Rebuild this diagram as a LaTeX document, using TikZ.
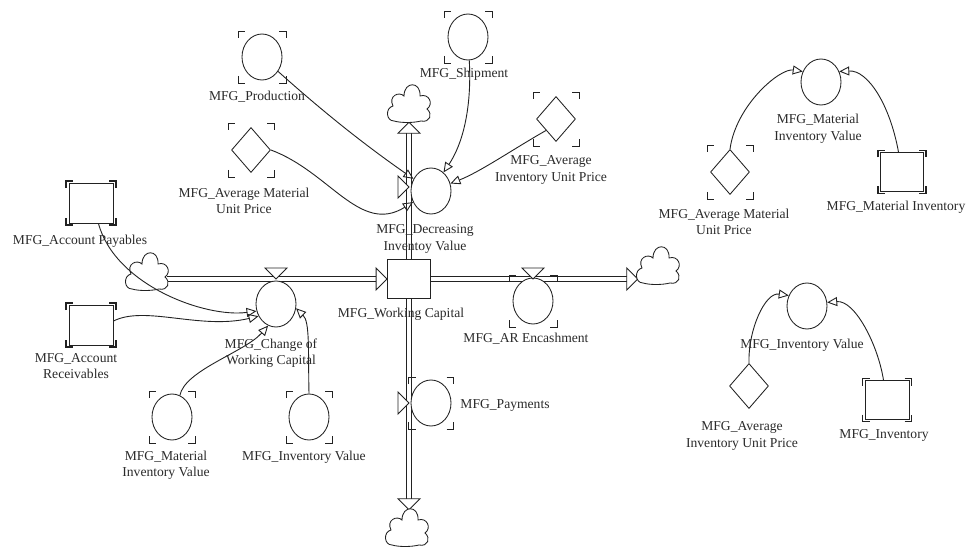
\documentclass[tikz,border=0pt]{standalone}
\usepackage{fontspec}
\setmainfont{Liberation Serif}
\usetikzlibrary{shapes.geometric,arrows.meta,calc}
\definecolor{ink}{HTML}{222222}
\definecolor{txt}{HTML}{2A2A2A}
\newcommand\vtri[2]{\draw[tri, shift={(#1)}, rotate=#2] (0,0) -- (-11,-11) -- (-11,11) -- cycle;}
\newcommand\hpipe[2]{%
  \draw[pl] ($(#1)+(0,-2.4)$) -- ($(#2)+(0,-2.4)$);
  \draw[pl] ($(#1)+(0,2.4)$) -- ($(#2)+(0,2.4)$);}
\newcommand\vpipe[2]{%
  \draw[pl] ($(#1)+(-2.4,0)$) -- ($(#2)+(-2.4,0)$);
  \draw[pl] ($(#1)+(2.4,0)$) -- ($(#2)+(2.4,0)$);}
\newcommand\vcorn[4]{%
  \begin{scope}[shift={(#1.center)}]
    \draw[#4] (-#2,-#3+7) -- (-#2,-#3) -- (-#2+7,-#3);
    \draw[#4] (#2-7,-#3) -- (#2,-#3) -- (#2,-#3+7);
    \draw[#4] (-#2,#3-7) -- (-#2,#3) -- (-#2+7,#3);
    \draw[#4] (#2-7,#3) -- (#2,#3) -- (#2,#3-7);
  \end{scope}}
\tikzset{vcloud/.pic={\draw[draw=ink, line width=0.85pt, fill=white]
  (-15,17) .. controls (-23,17) and (-24,4) .. (-16,2)
  .. controls (-21,-8) and (-10,-13) .. (-5,-8)
  .. controls (-5,-23) and (12,-23) .. (11,-8)
  .. controls (20,-11) and (25,0) .. (18,5)
  .. controls (24,10) and (21,19) .. (12,17)
  .. controls (4,19) and (-8,19) .. (-15,17) -- cycle;}}
\begin{document}
\begin{tikzpicture}[x=1pt,y=-1pt,
  every node/.style={font=\fontsize{13.6}{16.5}\selectfont},
  aux/.style={ellipse, draw=ink, fill=white, line width=0.85pt, minimum width=40pt, minimum height=46pt, inner sep=0pt},
  const/.style={diamond, draw=ink, fill=white, line width=0.85pt, minimum width=39pt, minimum height=45pt, inner sep=0pt},
  stock/.style={rectangle, draw=ink, fill=white, line width=0.85pt, minimum width=44pt, minimum height=40pt, inner sep=0pt},
  cloudnode/.style={minimum width=40pt, minimum height=36pt, inner sep=0pt},
  lbl/.style={align=center, text=txt, inner sep=0pt},
  pl/.style={draw=ink, line width=0.75pt},
  link/.style={draw=ink, line width=0.9pt, -{Triangle[open, length=10pt, width=9pt]}},
  tri/.style={draw=ink, fill=white, line width=0.85pt, line join=miter},
  brk/.style={draw=ink, line width=0.85pt},
  sbrk/.style={draw=ink, line width=1.4pt},
]
\useasboundingbox (0,0) rectangle (974,548);

% ---- clouds (as named places) ----
\node[cloudnode] (cTop) at (409,104) {};
\node[cloudnode] (cLeft) at (147,272) {};
\node[cloudnode] (cRight) at (658,266) {};
\node[cloudnode] (cBot) at (407,528) {};
\coordinate (wcC) at (409,279);

% ---- pipes ----
\path (cTop.south) coordinate (tTop) ++(0,11) coordinate (bTop);
\path (wcC |- cBot.north) coordinate (tBot) ++(0,-11) coordinate (bBot);
\path (wcC) ++(-21.5,0) coordinate (tL) ++(-11,0) coordinate (bL);
\path (cRight.west |- wcC) coordinate (tR) ++(-11,0) coordinate (bR);
\coordinate (sL) at (cLeft.east |- wcC);
\vpipe{bTop}{bBot}
\hpipe{sL}{bL}
\hpipe{wcC}{bR}

% ---- nodes ----
\node[aux] (prod) at (262,57) {};
\node[const] (avgmatL) at (251,150) {};
\node[aux] (ship) at (468,37) {};
\node[const] (avginvT) at (556,119) {};
\node[aux] (dec) at (431,191) {};
\node[stock] (payA) at (91,203) {};
\node[stock] (recv) at (91,325) {};
\node[aux] (cwc) at (276,304) {};
\node[stock, minimum width=43pt, minimum height=39pt] (wc) at (wcC) {};
\node[aux] (arE) at (533,301) {};
\node[aux] (pay) at (431,403) {};
\node[aux] (matL) at (172,417) {};
\node[aux] (invL) at (309,417) {};
\node[aux] (matR) at (821,82) {};
\node[const] (avgmatR) at (730,172) {};
\node[stock, minimum width=43pt, minimum height=39pt] (matInvR) at (902,172) {};
\node[aux] (invR) at (807,306) {};
\node[const] (avginvR) at (749,386) {};
\node[stock, minimum width=44pt, minimum height=39pt] (invS) at (887,400) {};

% ---- bracket corners ----
\vcorn{prod}{24}{26}{brk}
\vcorn{ship}{24}{26}{brk}
\vcorn{arE}{24}{26}{brk}
\vcorn{matL}{23}{26}{brk}
\vcorn{invL}{23}{26}{brk}
\vcorn{pay}{22.5}{26}{brk}
\vcorn{avgmatL}{23}{27}{brk}
\vcorn{avginvT}{23}{27}{brk}
\vcorn{avgmatR}{23}{27}{brk}
\vcorn{payA}{25}{22}{sbrk}
\vcorn{recv}{25}{22}{sbrk}
\vcorn{matInvR}{24}{21.5}{sbrk}
\vcorn{invS}{24.5}{21.5}{sbrk}

% ---- arrowheads on pipes ----
\vtri{tTop}{90}
\vtri{tBot}{-90}
\vtri{wc.west}{0}
\vtri{tR}{0}

% ---- valves ----
\coordinate (vC) at (cwc.north |- wc.center);
\coordinate (vA) at (arE.north |- wc.center);
\path (wc.center |- dec.west) ++(0,-4) coordinate (vD);
\coordinate (vP) at (wc.center |- pay.west);
\vtri{vC}{-90}
\vtri{vA}{-90}
\vtri{vD}{0}
\vtri{vP}{0}

% ---- clouds ----
\pic at (cTop) {vcloud};
\pic at (cLeft) {vcloud};
\pic at (cRight) {vcloud};
\pic at (cBot) {vcloud};

% ---- links ----
\draw[link] (prod) .. controls (330,118) and (372,150) .. (dec);
\draw[link] (avgmatL.east) .. controls (330,172) and (360,235) .. (dec);
\draw[link] (ship) .. controls (472,110) and (462,145) .. (dec);
\draw[link] (avginvT.south west) .. controls (515,148) and (480,172) .. (dec);
\draw[link] (payA.-70) .. controls (115,285) and (205,318) .. (cwc.200);
\draw[link] (recv.10) .. controls (145,305) and (200,330) .. (cwc.215);
\draw[link] (matL.70) .. controls (185,370) and (245,352) .. (cwc.250);
\draw[link] (invL.north) .. controls (308,350) and (310,322) .. (cwc.-12);
\draw[link] (avgmatR.north) .. controls (736,105) and (780,68) .. (matR.150);
\draw[link] (matInvR.100) .. controls (890,105) and (868,70) .. (matR.30);
\draw[link] (avginvR.north) .. controls (748,330) and (765,292) .. (invR.150);
\draw[link] (invS.100) .. controls (878,345) and (855,300) .. (invR.10);

% ---- labels ----
\node[lbl] (Lprod) at (257,97) {MFG\_Production};
\node[lbl] (LavgmatL) at (244,201) {MFG\_Average Material\\Unit Price};
\node[lbl] (Lship) at (464,74) {MFG\_Shipment};
\node[lbl] (LavginvT) at (551,170) {MFG\_Average\\Inventory Unit Price};
\node[lbl] (Ldec) at (425,239) {MFG\_Decreasing\\Inventoy Value};
\node[lbl] (LpayA) at (80,241) {MFG\_Account Payables};
\node[lbl] (Lrecv) at (76,366) {MFG\_Account\\Receivables};
\node[lbl] (Lcwc) at (271,353) {MFG\_Change of\\Working Capital};
\node[lbl] (Lwc) at (401,314) {MFG\_Working Capital};
\node[lbl] (LarE) at (526,339) {MFG\_AR Encashment};
\node[lbl] (Lpay) at (505,405) {MFG\_Payments};
\node[lbl] (LmatL) at (166,465) {MFG\_Material\\Inventory Value};
\node[lbl] (LinvL) at (304,457) {MFG\_Inventory Value};
\node[lbl] (LmatR) at (818,129) {MFG\_Material\\Inventory Value};
\node[lbl] (LavgmatR) at (724,222) {MFG\_Average Material\\Unit Price};
\node[lbl] (LmatInvR) at (896,207) {MFG\_Material Inventory};
\node[lbl] (LinvR) at (802,345) {MFG\_Inventory Value};
\node[lbl] (LavginvR) at (742,436) {MFG\_Average\\Inventory Unit Price};
\node[lbl] (LinvS) at (884,435) {MFG\_Inventory};
\end{tikzpicture}
\end{document}
